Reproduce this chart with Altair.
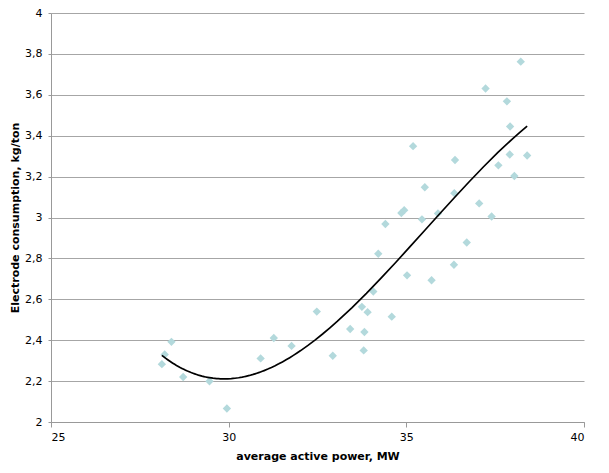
import altair as alt
import pandas as pd

power = [28.12, 28.20, 28.39, 28.72, 29.46, 29.95, 30.90, 31.27, 31.77, 32.48,
         32.93, 33.42, 33.82, 33.80, 33.75, 33.91, 34.07, 34.59, 34.21, 35.02,
         34.41, 34.86, 34.94, 35.44, 35.52, 35.19, 35.71, 35.89, 36.34, 36.35,
         36.37, 36.70, 37.05, 38.22, 37.23, 37.83, 37.92, 37.91, 38.40, 37.59,
         38.04, 37.40]
consumption = [2.283, 2.330, 2.392, 2.220, 2.199, 2.066, 2.311, 2.411, 2.372, 2.540,
               2.324, 2.455, 2.440, 2.350, 2.563, 2.537, 2.638, 2.515, 2.823, 2.717,
               2.968, 3.022, 3.036, 2.991, 3.148, 3.349, 2.693, 3.020, 2.769, 3.119,
               3.281, 2.878, 3.069, 3.762, 3.631, 3.568, 3.445, 3.308, 3.303, 3.255,
               3.203, 3.005]

df = pd.DataFrame({"power": power, "consumption": consumption})

FONT = "DejaVu Sans"

x_enc = alt.X("power:Q",
              scale=alt.Scale(domain=[25, 40], nice=False),
              axis=alt.Axis(title="average active power, MW", values=[25, 30, 35, 40],
                            grid=False, tickSize=5, labelPadding=4, titlePadding=8))
y_enc = alt.Y("consumption:Q",
              scale=alt.Scale(domain=[2, 4], nice=False),
              axis=alt.Axis(title="Electrode consumption, kg/ton",
                            values=[2, 2.2, 2.4, 2.6, 2.8, 3, 3.2, 3.4, 3.6, 3.8, 4],
                            labelExpr="replace(format(datum.value, '.2~f'), '.', ',')",
                            grid=True, tickSize=3, labelPadding=6, titlePadding=4))

points = alt.Chart(df).mark_point(shape="diamond", filled=True, size=70,
                                  color="#b3d9dc", opacity=1).encode(x=x_enc, y=y_enc)

trend = alt.Chart(df).transform_regression(
    "power", "consumption", method="poly", order=3
).mark_line(color="black", strokeWidth=1.7).encode(x="power:Q", y="consumption:Q")

chart = alt.layer(points, trend).properties(
    width=533, height=409,
    autosize=alt.AutoSizeParams(type="none"),
    padding={"left": 43, "top": 5, "right": 17, "bottom": 43},
).configure_view(stroke=None).configure_axis(
    labelFont=FONT, titleFont=FONT, labelFontSize=11, titleFontSize=11,
    titleFontWeight="bold", labelColor="#000000", titleColor="#000000",
    domainColor="#999999", tickColor="#999999", gridColor="#a6a6a6",
    gridWidth=1, domainWidth=1, tickWidth=1
)

chart.save("out.html", embed_options={"renderer": "svg", "actions": False})
